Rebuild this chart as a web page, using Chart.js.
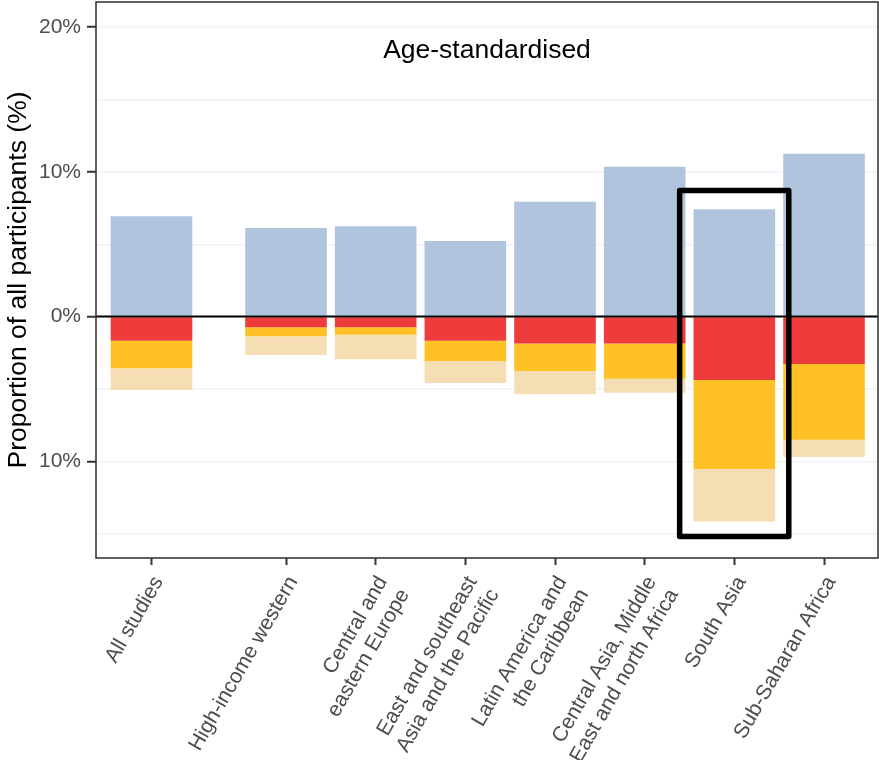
<!DOCTYPE html>
<html>
<head>
<meta charset="utf-8">
<script src="https://cdn.jsdelivr.net/npm/chart.js@4/dist/chart.umd.min.js"></script>
<style>
  html, body { margin: 0; padding: 0; background: #ffffff; }
  #wrap { width: 879px; height: 760px; position: relative; }
</style>
</head>
<body>
<div id="wrap"><canvas id="chart"></canvas></div>
<script>
// Categories along the x axis (multi-line labels as arrays)
const CATEGORIES = [
  'All studies',
  'High-income western',
  ['Central and', 'eastern Europe'],
  ['East and southeast', 'Asia and the Pacific'],
  ['Latin America and', 'the Caribbean'],
  ['Central Asia, Middle', 'East and north Africa'],
  'South Asia',
  'Sub-Saharan Africa'
];

// Proportion of participants (%), age-standardised
const ABOVE_ZERO   = [6.93, 6.12, 6.24, 5.22, 7.94, 10.36, 7.42, 11.26];
const BELOW_RED    = [-1.67, -0.74, -0.74, -1.67, -1.85, -1.85, -4.38, -3.28];
const BELOW_ORANGE = [-1.90, -0.62, -0.51, -1.40, -1.91, -2.44, -6.15, -5.23];
const BELOW_WHEAT  = [-1.50, -1.29, -1.70, -1.52, -1.61, -0.97, -3.62, -1.19];

// Y axis ticks: gridlines every 5%, labels every 10%
const Y_GRID_TICKS  = [-15, -10, -5, 0, 5, 10, 15, 20];
const Y_LABEL_TICKS = [-10, 0, 10, 20];

const PANEL_TITLE = 'Age-standardised';
const Y_TITLE = 'Proportion of all participants (%)';

// "All studies" sits apart from the regions by an extra half slot
const GROUP_GAP = 0.5;
const xPos = CATEGORIES.map((_, i) => (i === 0 ? 0 : i + GROUP_GAP));
const toPoints = (arr) => arr.map((v, i) => ({ x: xPos[i], y: v }));

const FONT = "'Liberation Sans', Arial, Helvetica, sans-serif";
Chart.defaults.font.family = FONT;

// Panel decorations: frame, zero line, panel title, highlight box
const panelDecor = {
  id: 'panelDecor',
  afterDatasetsDraw(chart, args, opts) {
    const { ctx, chartArea: a, scales: { x, y } } = chart;
    ctx.save();
    // zero line
    const y0 = y.getPixelForValue(0);
    ctx.strokeStyle = '#000000';
    ctx.lineWidth = 2;
    ctx.beginPath();
    ctx.moveTo(a.left, y0);
    ctx.lineTo(a.right, y0);
    ctx.stroke();
    // highlight box
    const hb = opts.highlight;
    const l = x.getPixelForValue(hb.xMin), r = x.getPixelForValue(hb.xMax);
    const t = y.getPixelForValue(hb.yMax), b = y.getPixelForValue(hb.yMin);
    ctx.lineWidth = 5.5;
    ctx.lineJoin = 'round';
    ctx.strokeStyle = '#000000';
    ctx.strokeRect(l, t, r - l, b - t);
    ctx.restore();
  },
  afterDraw(chart, args, opts) {
    const { ctx, chartArea: a } = chart;
    ctx.save();
    // panel frame
    ctx.strokeStyle = '#3a3a3a';
    ctx.lineWidth = 1.6;
    ctx.strokeRect(a.left, a.top, a.right - a.left, a.bottom - a.top);
    // panel title
    ctx.fillStyle = '#000000';
    ctx.font = '26.5px ' + FONT;
    ctx.textAlign = 'center';
    ctx.textBaseline = 'alphabetic';
    ctx.fillText(PANEL_TITLE, (a.left + a.right) / 2, a.top + 56);
    ctx.restore();
  }
};

new Chart(document.getElementById('chart'), {
  type: 'bar',
  data: {
    datasets: [
      { label: 'Above', data: toPoints(ABOVE_ZERO),   backgroundColor: '#b0c4de' },
      { label: 'Red',   data: toPoints(BELOW_RED),    backgroundColor: '#ee3b3b' },
      { label: 'Orange',data: toPoints(BELOW_ORANGE), backgroundColor: '#ffc125' },
      { label: 'Wheat', data: toPoints(BELOW_WHEAT),  backgroundColor: '#f5deb3' }
    ]
  },
  plugins: [panelDecor],
  options: {
    responsive: true,
    maintainAspectRatio: false,
    animation: false,
    layout: { padding: { top: 2, right: 1, left: 0, bottom: 0 } },
    datasets: { bar: { categoryPercentage: 1, barPercentage: 0.91, borderWidth: 0 } },
    plugins: {
      legend: { display: false },
      tooltip: { enabled: false },
      panelDecor: { highlight: { xMin: 5.89, xMax: 7.107, yMin: -15.2, yMax: 8.71 } }
    },
    scales: {
      x: {
        type: 'linear',
        stacked: true,
        offset: false,
        min: -0.619,
        max: 8.102,
        afterBuildTicks(scale) { scale.ticks = xPos.map(v => ({ value: v })); },
        afterFit(scale) {
          scale.height = 202;
          scale.paddingLeft = 0;
          scale.paddingRight = 0;
        },
        border: { display: false },
        grid: {
          offset: false,
          drawOnChartArea: false,
          drawTicks: true,
          tickLength: 7,
          tickColor: '#333333',
          tickWidth: 2
        },
        ticks: {
          autoSkip: false,
          minRotation: 60,
          maxRotation: 60,
          padding: 7,
          labelOffset: 7,
          color: '#4d4d4d',
          font: { size: 21 },
          callback(value, index) { return CATEGORIES[index]; }
        }
      },
      y: {
        stacked: true,
        min: -16.68,
        max: 21.74,
        afterBuildTicks(scale) { scale.ticks = Y_GRID_TICKS.map(v => ({ value: v })); },
        afterFit(scale) {
          scale.width = 96;
          scale.paddingTop = 0;
          scale.paddingBottom = 0;
        },
        border: { display: false },
        grid: {
          color: '#f1f1f6',
          lineWidth: 1.5,
          drawTicks: true,
          tickLength: 9,
          tickWidth: 2,
          tickColor: (ctx) => (Y_LABEL_TICKS.includes(ctx.tick.value) ? '#333333' : 'rgba(0,0,0,0)')
        },
        ticks: {
          padding: 6,
          color: '#4d4d4d',
          font: { size: 21 },
          callback(value) { return Y_LABEL_TICKS.includes(value) ? Math.abs(value) + '%' : ''; }
        },
        title: {
          display: true,
          text: Y_TITLE,
          color: '#000000',
          font: { size: 26.5 },
          padding: { top: 3, bottom: 0 }
        }
      }
    }
  }
});
</script>
</body>
</html>
